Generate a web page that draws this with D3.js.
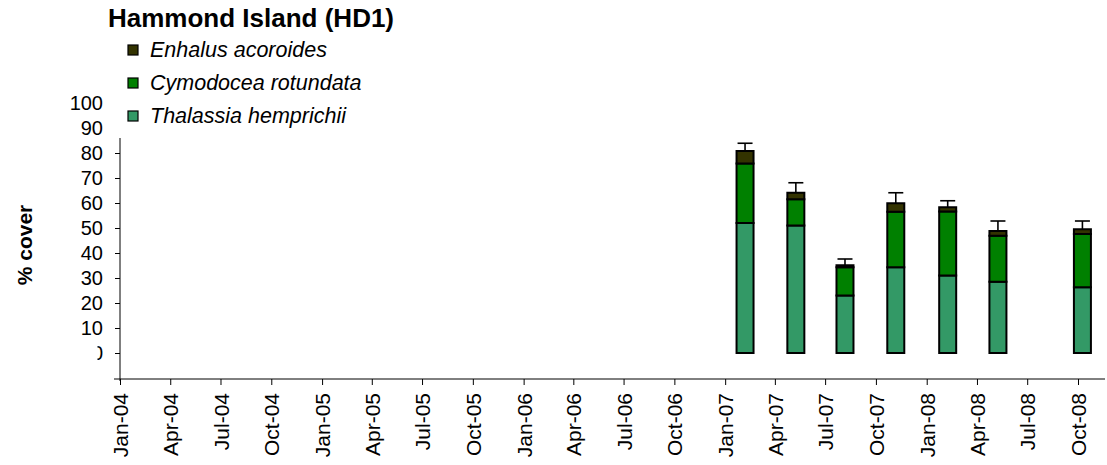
<!DOCTYPE html>
<html>
<head>
<meta charset="utf-8">
<script src="https://cdn.jsdelivr.net/npm/d3@7"></script>
<style>
  body { margin: 0; background: #fff; }
  svg { font-family: "Liberation Sans", Arial, sans-serif; }
</style>
</head>
<body>
<svg id="chart" width="1107" height="465"></svg>
<script>
// sampling dates (bar centres)
const dates = ["2007-02-06", "2007-05-09", "2007-08-06", "2007-11-06", "2008-02-08", "2008-05-09", "2008-10-09"];
// % cover by species
const thalassia = [52, 51, 23, 34.3, 31, 28.5, 26.3];
const cymodocea = [23.8, 10.5, 11.3, 22.2, 25.6, 18.4, 21.3];
const enhalus = [5, 2.6, 0.8, 3.4, 1.7, 1.9, 1.9];
const errors = [3.1, 4, 2.5, 4.2, 2.6, 4, 3.3];
const species = ["Thalassia hemprichii", "Cymodocea rotundata", "Enhalus acoroides"];
const colors = ["#339966", "#008000", "#333300"];
const yTicks = [0, 10, 20, 30, 40, 50, 60, 70, 80, 90, 100];

const svg = d3.select("#chart");

const rows = dates.map((d, i) => ({
  date: new Date(d + "T00:00:00Z"),
  "Thalassia hemprichii": thalassia[i],
  "Cymodocea rotundata": cymodocea[i],
  "Enhalus acoroides": enhalus[i],
  err: errors[i]
}));

const x = d3.scaleUtc()
  .domain([new Date("2004-01-01T00:00:00Z"), new Date("2008-10-01T00:00:00Z")])
  .range([120, 1078]);

const y = d3.scaleLinear().domain([0, 100]).range([353, 103]);
const xAxisY = 379;

// title
svg.append("text")
  .attr("x", 108)
  .attr("y", 27)
  .style("font-weight", "bold")
  .style("font-size", "26px")
  .text("Hammond Island (HD1)");

// legend (top entry = top of stack)
const legendItems = species.slice().reverse();
const legendColors = colors.slice().reverse();
const legend = svg.selectAll("g.legend")
  .data(legendItems)
  .enter()
  .append("g")
  .attr("class", "legend")
  .attr("transform", (d, i) => `translate(128, ${50 + i * 33})`);

legend.append("rect")
  .attr("x", 0)
  .attr("y", -5)
  .attr("width", 10)
  .attr("height", 10)
  .attr("fill", (d, i) => legendColors[i])
  .attr("stroke", "#000")
  .attr("stroke-width", 1.2);

legend.append("text")
  .attr("x", 22)
  .attr("y", 7)
  .style("font-style", "italic")
  .style("font-size", "21.5px")
  .text((d) => d);

// y axis
const yAxis = svg.append("g")
  .attr("transform", "translate(120,0)")
  .call(d3.axisLeft(y).tickValues(yTicks).tickSize(5).tickPadding(12));

yAxis.select(".domain").remove();
yAxis.selectAll(".tick line")
  .attr("stroke", "#000")
  .attr("x2", (d) => (d > 80 ? 0 : -5));
yAxis.selectAll(".tick text")
  .style("font-size", "20px")
  .style("font-family", "Liberation Sans, Arial, sans-serif")
  .attr("fill", "#000");

// the 0 label is partly hidden in the original
const defs = svg.append("defs");
defs.append("clipPath")
  .attr("id", "zeroClip")
  .append("rect")
  .attr("x", -22.5)
  .attr("y", -15)
  .attr("width", 22.5)
  .attr("height", 30);
yAxis.selectAll(".tick")
  .filter((d) => d === 0)
  .select("text")
  .attr("clip-path", "url(#zeroClip)");

svg.append("line")
  .attr("x1", 120).attr("x2", 120)
  .attr("y1", y(86)).attr("y2", xAxisY + 2)
  .attr("stroke", "#000")
  .attr("stroke-width", 1);

// y title
svg.append("text")
  .attr("transform", `translate(32, ${245}) rotate(-90)`)
  .attr("text-anchor", "middle")
  .style("font-weight", "bold")
  .style("font-size", "21px")
  .text("% cover");

// x axis
const xAxis = svg.append("g")
  .attr("transform", `translate(0, ${xAxisY})`)
  .call(d3.axisBottom(x)
    .ticks(d3.utcMonth.every(3))
    .tickFormat(d3.utcFormat("%b-%y"))
    .tickSize(6));

xAxis.select(".domain").remove();
xAxis.selectAll(".tick line").attr("stroke", "#000");
xAxis.selectAll(".tick text")
  .attr("transform", "rotate(-90)")
  .attr("text-anchor", "end")
  .attr("x", -14)
  .attr("y", 0)
  .attr("dy", "0.36em")
  .style("font-size", "21px")
  .style("font-family", "Liberation Sans, Arial, sans-serif")
  .attr("fill", "#000");

svg.append("line")
  .attr("x1", 114).attr("x2", 1105)
  .attr("y1", xAxisY).attr("y2", xAxisY)
  .attr("stroke", "#000")
  .attr("stroke-width", 1);

// stacked bars
const stack = d3.stack().keys(species);
const series = stack(rows);
const barW = 17;

svg.selectAll("g.layer")
  .data(series)
  .enter()
  .append("g")
  .attr("class", "layer")
  .attr("fill", (d, i) => colors[i])
  .selectAll("rect")
  .data((d) => d)
  .enter()
  .append("rect")
  .attr("x", (d) => x(d.data.date) - barW / 2)
  .attr("y", (d) => y(d[1]))
  .attr("width", barW)
  .attr("height", (d) => y(d[0]) - y(d[1]))
  .attr("stroke", "#000")
  .attr("stroke-width", 2);

// error bars (upper only)
const errG = svg.selectAll("g.err")
  .data(rows)
  .enter()
  .append("g")
  .attr("class", "err")
  .attr("stroke", "#000")
  .attr("stroke-width", 1.6);

const total = (d) => d["Thalassia hemprichii"] + d["Cymodocea rotundata"] + d["Enhalus acoroides"];

errG.append("line")
  .attr("x1", (d) => x(d.date))
  .attr("x2", (d) => x(d.date))
  .attr("y1", (d) => y(total(d)))
  .attr("y2", (d) => y(total(d) + d.err));

errG.append("line")
  .attr("x1", (d) => x(d.date) - 7.5)
  .attr("x2", (d) => x(d.date) + 7.5)
  .attr("y1", (d) => y(total(d) + d.err))
  .attr("y2", (d) => y(total(d) + d.err));
</script>
</body>
</html>
